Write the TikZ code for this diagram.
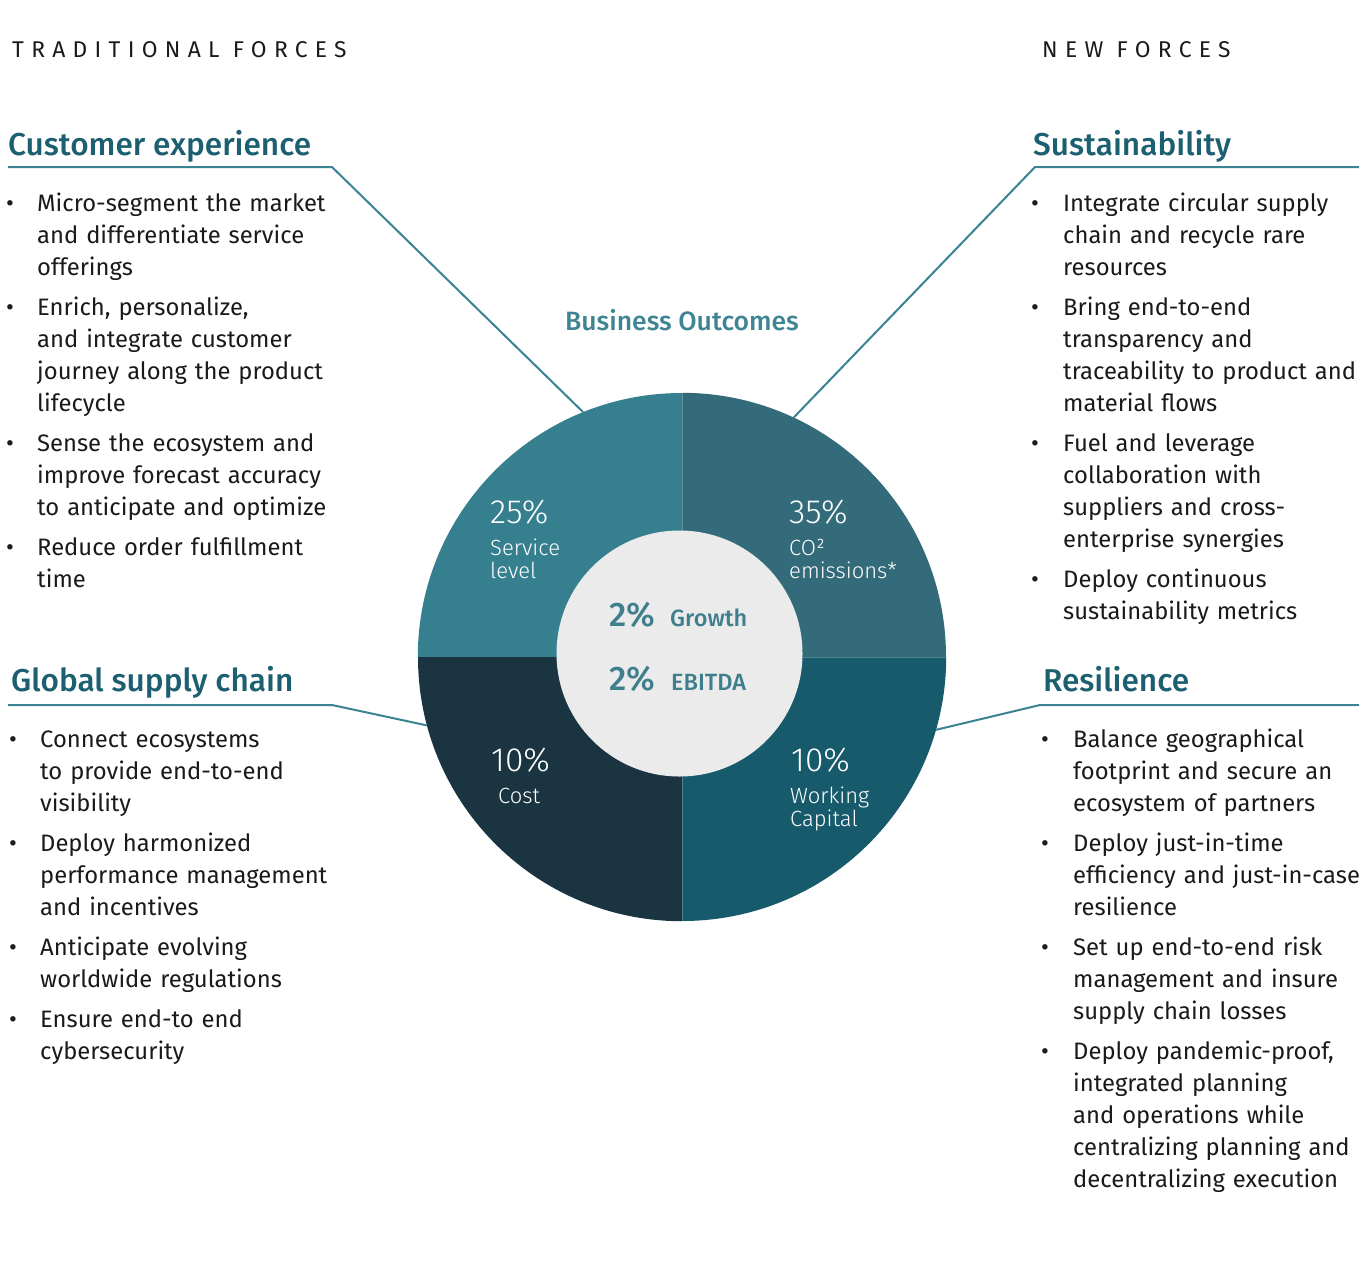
\documentclass[tikz,border=0pt]{standalone}
\usepackage{fontspec}
\setmainfont{Fira Sans}
\newfontfamily\medfont{Fira Sans Medium}
\newfontfamily\lightfont{Fira Sans Light}
\definecolor{qTL}{HTML}{357F8F}
\definecolor{qTR}{HTML}{346B7B}
\definecolor{qBL}{HTML}{1A3441}
\definecolor{qBR}{HTML}{165A6B}
\definecolor{coreC}{HTML}{EBEBEB}
\definecolor{headC}{HTML}{1B5F70}
\definecolor{lineC}{HTML}{3A8393}
\definecolor{boC}{HTML}{3F8493}
\definecolor{ctrC}{HTML}{3F7E8D}
\definecolor{txtC}{HTML}{1A1A1A}
\tikzset{
  body/.style={anchor=base west, inner sep=0pt, text width=340pt, align=left,
    font=\fontsize{23.8}{32}\selectfont, text=txtC},
  bul/.style={anchor=base west, inner sep=0pt, font=\fontsize{24}{32}\selectfont, text=txtC},
  head/.style={anchor=base west, inner sep=0pt, font=\medfont\fontsize{31.6}{36}\selectfont, text=headC},
  forces/.style={anchor=base west, inner sep=0pt, font=\fontsize{22.8}{26}\selectfont\addfontfeature{LetterSpace=32}, text=txtC},
  conn/.style={draw=lineC, line width=2pt},
  pct/.style={anchor=base west, inner sep=0pt, font=\lightfont\fontsize{33.5}{36}\selectfont, text=white},
  plabel/.style={anchor=base west, inner sep=0pt, text width=150pt, align=left, font=\lightfont\fontsize{22}{23.5}\selectfont, text=white},
  bigpct/.style={anchor=base west, inner sep=0pt, font=\medfont\fontsize{34}{36}\selectfont, text=ctrC},
  ctrlab/.style={anchor=base west, inner sep=0pt, font=\medfont\fontsize{23.5}{26}\selectfont, text=ctrC},
}
\begin{document}
\begin{tikzpicture}[x=1pt,y=-1pt]
\useasboundingbox[fill=white] (0,0) rectangle (1359,1286);

% pie
\node[circle, minimum size=528pt, inner sep=0pt] (pie) at (682,657) {};
\coordinate (pc) at (682,657);
\fill[qTL] (pc) -- (pie.west) arc[start angle=180, end angle=270, radius=264] -- cycle;
\fill[qTR] (pc) -- (pie.north) arc[start angle=270, end angle=360, radius=264] -- cycle;
\fill[qBR] (pc) -- (pie.east) arc[start angle=0, end angle=90, radius=264] -- cycle;
\fill[qBL] (pc) -- (pie.south) arc[start angle=90, end angle=180, radius=264] -- cycle;
\draw[white, opacity=0.25, line width=0.8pt] (pie.north) -- (pie.south);
\draw[white, opacity=0.25, line width=0.8pt] (pc) -- (pie.east);
\node[circle, fill=coreC, minimum size=246pt, inner sep=0pt] (core) at (679.5,653.5) {};

% forces labels
\node[forces] (trad) at (12,57) {TRADITIONAL FORCES};
\node[forces] (newf) at (1042,57) {NEW FORCES};

% headings
\node[head] (hCE) at (8,155) {Customer experience};
\node[head] (hSU) at (1033,155) {Sustainability};
\node[head] (hGS) at (11,691) {Global supply chain};
\node[head] (hRE) at (1043,691) {Resilience};

% connectors
\coordinate (ceA) at (8,167);
\coordinate (ceB) at (332,167);
\draw[conn] (ceA) -- (ceB) -- (pie.112.7);
\coordinate (suA) at (1359,167);
\coordinate (suB) at (1035,167);
\draw[conn] (suA) -- (suB) -- (pie.65.9);
\coordinate (gsA) at (8,705);
\coordinate (gsB) at (332,705);
\draw[conn] (gsA) -- (gsB) -- (pie.195.4);
\coordinate (reA) at (1359,705);
\coordinate (reB) at (1040,705);
\draw[conn] (reA) -- (reB) -- (pie.344.4);

% business outcomes
\node[anchor=base, inner sep=0pt, font=\medfont\fontsize{26.5}{30}\selectfont, text=boC] (bo) at (682,330) {Business Outcomes};

% pie labels
\node[pct] (p1) at (490,523) {25\%};
\node[plabel] (l1) at (490,555) {Service\\level};
\node[pct] (p2) at (789,523) {35\%};
\node[plabel] (l2) at (789,555) {CO²\\emissions*};
\node[pct] (p3) at (491,771) {10\%};
\node[plabel] (l3) at (498,803) {Cost};
\node[pct] (p4) at (791,771) {10\%};
\node[plabel] (l4) at (790,803) {Working\\Capital};

% center
\node[bigpct] (g1) at (609,626) {2\%};
\node[ctrlab] (g2) at (670,626) {Growth};
\node[bigpct] (e1) at (609,690) {2\%};
\node[ctrlab] (e2) at (671,690) {EBITDA};

% customer experience items
\node[bul] (ceb1) at (6,211) {•};
\node[body] (cet1) at (37,211) {Micro-segment the market\\and differentiate service\\offerings};
\node[bul] (ceb2) at (6,315) {•};
\node[body] (cet2) at (37,315) {Enrich, personalize,\\and integrate customer\\journey along the product\\lifecycle};
\node[bul] (ceb3) at (6,451) {•};
\node[body] (cet3) at (37,451) {Sense the ecosystem and\\improve forecast accuracy\\to anticipate and optimize};
\node[bul] (ceb4) at (6,555) {•};
\node[body] (cet4) at (37,555) {Reduce order fulfillment\\time};

% global supply chain items
\node[bul] (gsb1) at (9,747) {•};
\node[body] (gst1) at (40,747) {Connect ecosystems\\to provide end-to-end\\visibility};
\node[bul] (gsb2) at (9,851) {•};
\node[body] (gst2) at (40,851) {Deploy harmonized\\performance management\\and incentives};
\node[bul] (gsb3) at (9,955) {•};
\node[body] (gst3) at (40,955) {Anticipate evolving\\worldwide regulations};
\node[bul] (gsb4) at (9,1027) {•};
\node[body] (gst4) at (40,1027) {Ensure end-to end\\cybersecurity};

% sustainability items
\node[bul] (sub1) at (1031,211) {•};
\node[body] (sut1) at (1063,211) {Integrate circular supply\\chain and recycle rare\\resources};
\node[bul] (sub2) at (1031,315) {•};
\node[body] (sut2) at (1063,315) {Bring end-to-end\\transparency and\\traceability to product and\\material flows};
\node[bul] (sub3) at (1031,451) {•};
\node[body] (sut3) at (1063,451) {Fuel and leverage\\collaboration with\\suppliers and cross-\\enterprise synergies};
\node[bul] (sub4) at (1031,587) {•};
\node[body] (sut4) at (1063,587) {Deploy continuous\\sustainability metrics};

% resilience items
\node[bul] (reb1) at (1041,747) {•};
\node[body] (ret1) at (1073,747) {Balance geographical\\footprint and secure an\\ecosystem of partners};
\node[bul] (reb2) at (1041,851) {•};
\node[body] (ret2) at (1073,851) {Deploy just-in-time\\efficiency and just-in-case\\resilience};
\node[bul] (reb3) at (1041,955) {•};
\node[body] (ret3) at (1073,955) {Set up end-to-end risk\\management and insure\\supply chain losses};
\node[bul] (reb4) at (1041,1059) {•};
\node[body] (ret4) at (1073,1059) {Deploy pandemic-proof,\\integrated planning\\and operations while\\centralizing planning and\\decentralizing execution};
\end{tikzpicture}
\end{document}
